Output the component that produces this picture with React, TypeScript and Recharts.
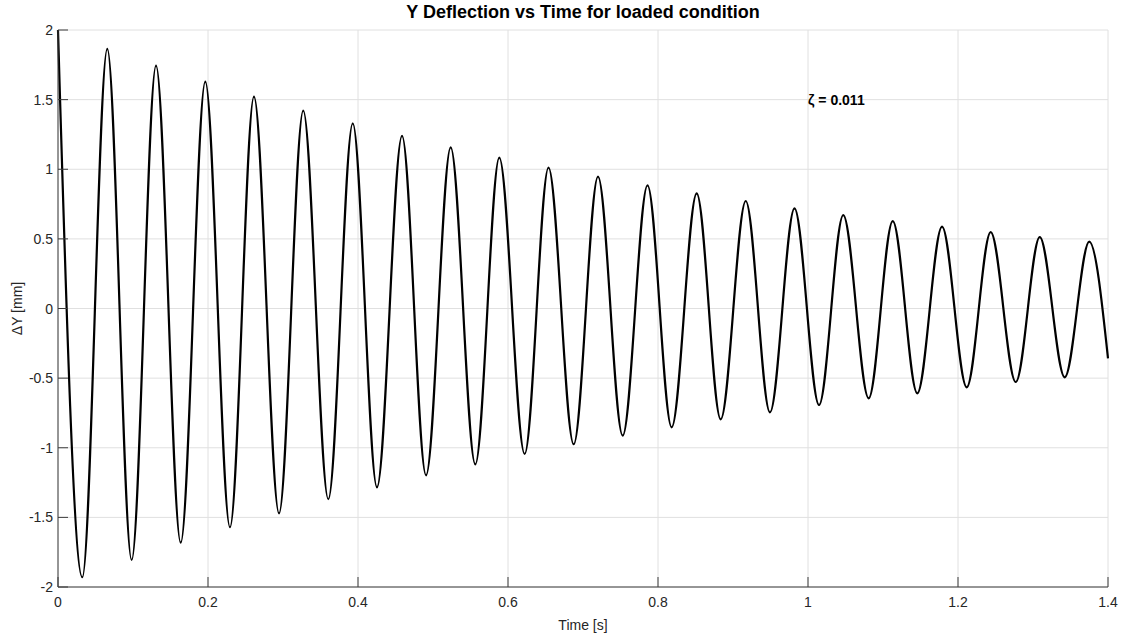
import React from "react"
import { LineChart, Line, XAxis, YAxis, CartesianGrid, ReferenceDot, Label } from "recharts"

// peaks / troughs of the response (time [s], deflection [mm])
const extremaTimes = [
  0, 0.0324, 0.0657, 0.0982, 0.1307, 0.1636, 0.1964, 0.2293, 0.2613, 0.2947,
  0.327, 0.3604, 0.393, 0.4253, 0.4587, 0.4907, 0.5236, 0.5564, 0.5884, 0.6222,
  0.654, 0.6876, 0.72, 0.7529, 0.786, 0.8182, 0.8516, 0.8836, 0.917, 0.9493,
  0.982, 1.0147, 1.047, 1.0809, 1.113, 1.1457, 1.1787, 1.2116, 1.2436, 1.277,
  1.309, 1.3423, 1.375, 1.4,
]
const extremaValues = [
  2.0, -1.93, 1.864, -1.806, 1.744, -1.682, 1.629, -1.571, 1.521, -1.471,
  1.421, -1.37, 1.33, -1.284, 1.239, -1.198, 1.157, -1.119, 1.083, -1.045,
  1.011, -0.975, 0.947, -0.913, 0.884, -0.853, 0.827, -0.796, 0.772, -0.746,
  0.719, -0.693, 0.671, -0.645, 0.628, -0.609, 0.588, -0.566, 0.549, -0.528,
  0.513, -0.494, 0.48, -0.358,
]

const xTicks = [0, 0.2, 0.4, 0.6, 0.8, 1, 1.2, 1.4]
const yTicks = [-2, -1.5, -1, -0.5, 0, 0.5, 1, 1.5, 2]

const chartTitle = "Y Deflection vs Time for loaded condition"
const dampingLabel = "ζ = 0.011"
const dampingAt = { t: 1.0, v: 1.5 }

const data = extremaTimes.map((t, i) => ({ t, v: extremaValues[i] }))

const AXIS = "#3c3c3c"
const TEXT = "#262626"
const GRID = "#e0e0e0"
const FONT = "'Liberation Sans', Arial, Helvetica, sans-serif"
const TICK_LEN = 10

const BottomTick = ({ x, y, payload }: any) => (
  <g>
    <line x1={x} y1={y} x2={x} y2={y - TICK_LEN} stroke={AXIS} />
    <text x={x} y={y + 20} textAnchor="middle" fill={TEXT} fontSize={14} fontFamily={FONT}>
      {String(payload.value)}
    </text>
  </g>
)

const TopTick = ({ x, y }: any) => (
  <line x1={x} y1={y} x2={x} y2={y + TICK_LEN} stroke={AXIS} />
)

const LeftTick = ({ x, y, payload }: any) => (
  <g>
    <line x1={x} y1={y} x2={x + TICK_LEN} y2={y} stroke={AXIS} />
    <text x={x - 5} y={y + 5} textAnchor="end" fill={TEXT} fontSize={14} fontFamily={FONT}>
      {String(payload.value)}
    </text>
  </g>
)

const RightTick = ({ x, y }: any) => (
  <line x1={x} y1={y} x2={x - TICK_LEN} y2={y} stroke={AXIS} />
)

const XTitle = ({ viewBox }: any) => (
  <text x={viewBox.x + viewBox.width / 2} y={viewBox.y + 43} textAnchor="middle" fontSize={14} fill={TEXT} fontFamily={FONT}>
    Time [s]
  </text>
)

const YTitle = ({ viewBox }: any) => {
  const cx = viewBox.x + 22
  const cy = viewBox.y + viewBox.height / 2
  return (
    <text x={cx} y={cy} transform={`rotate(-90 ${cx} ${cy})`} textAnchor="middle" fontSize={14} fill={TEXT} fontFamily={FONT}>
      ΔY [mm]
    </text>
  )
}

const ZetaLabel = ({ viewBox }: any) => (
  <text x={viewBox.x} y={viewBox.y + 5} fontWeight="bold" fontSize={14} fill="#000" fontFamily={FONT}>
    {dampingLabel}
  </text>
)

export default function App() {
  return (
    <div style={{ position: "absolute", left: 0, top: 0, width: 1129, height: 634, background: "#fff" }}>
      <div
        style={{
          position: "absolute",
          left: 58,
          top: 2,
          width: 1050,
          textAlign: "center",
          fontFamily: FONT,
          fontWeight: "bold",
          fontSize: 18,
          lineHeight: "20px",
          color: "#000",
        }}
      >
        {chartTitle}
      </div>
      <LineChart width={1129} height={634} data={data} margin={{ top: 30, right: 21, bottom: 0, left: 0 }}>
        <CartesianGrid stroke={GRID} />
        <XAxis
          dataKey="t"
          type="number"
          domain={[0, 1.4]}
          ticks={xTicks}
          height={47}
          tickSize={0}
          tickMargin={0}
          tick={<BottomTick />}
          axisLine={{ stroke: AXIS }}
          tickLine={false}
        >
          <Label content={<XTitle />} />
        </XAxis>
        <XAxis
          xAxisId="top"
          orientation="top"
          dataKey="t"
          type="number"
          domain={[0, 1.4]}
          ticks={xTicks}
          height={0}
          tickSize={0}
          tickMargin={0}
          tick={<TopTick />}
          axisLine={{ stroke: AXIS }}
          tickLine={false}
        />
        <YAxis
          dataKey="v"
          type="number"
          domain={[-2, 2]}
          ticks={yTicks}
          width={58}
          tickSize={0}
          tickMargin={0}
          tick={<LeftTick />}
          axisLine={{ stroke: AXIS }}
          tickLine={false}
        >
          <Label content={<YTitle />} />
        </YAxis>
        <YAxis
          yAxisId="right"
          orientation="right"
          dataKey="v"
          type="number"
          domain={[-2, 2]}
          ticks={yTicks}
          width={0}
          tickSize={0}
          tickMargin={0}
          tick={<RightTick />}
          axisLine={{ stroke: AXIS }}
          tickLine={false}
        />
        <Line
          type="monotone"
          dataKey="v"
          stroke="#000"
          strokeWidth={2.2}
          dot={false}
          isAnimationActive={false}
        />
        <ReferenceDot
          x={dampingAt.t}
          y={dampingAt.v}
          r={0}
          fill="none"
          stroke="none"
          label={<ZetaLabel />}
        />
      </LineChart>
    </div>
  )
}
